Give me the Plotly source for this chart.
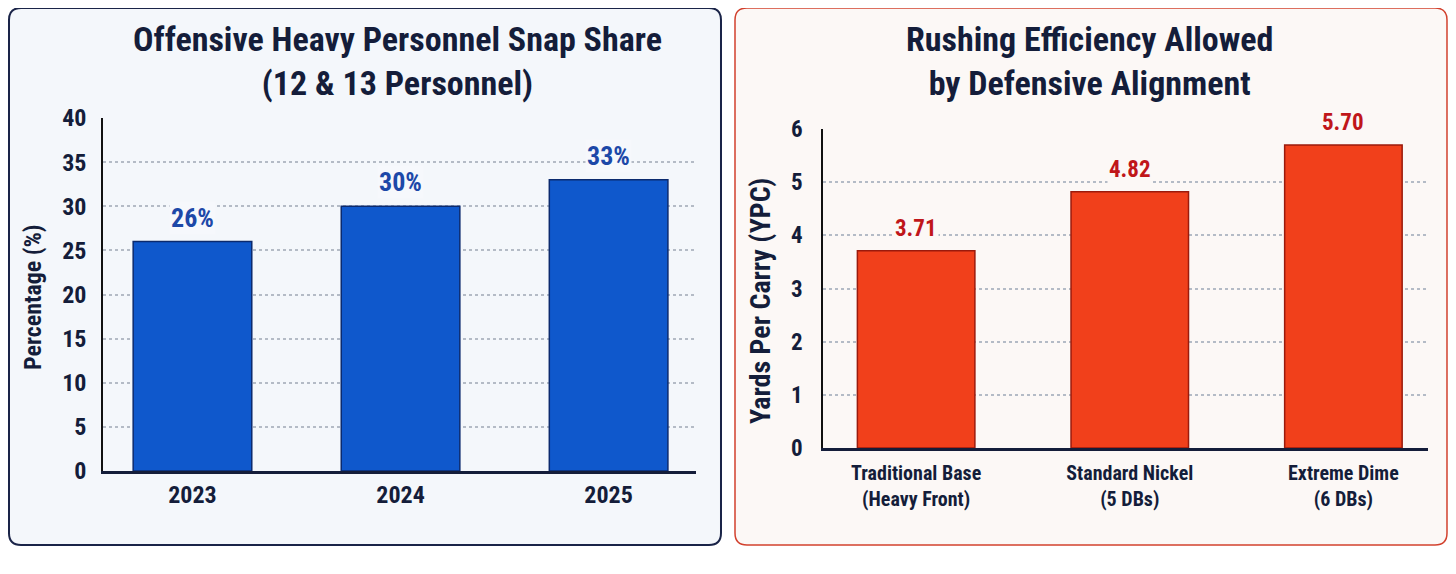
import plotly.graph_objects as go

# left panel data
years = ["2023", "2024", "2025"]
heavy_share = [26, 30, 33]
heavy_labels = ["26%", "30%", "33%"]
share_ticks = [0, 5, 10, 15, 20, 25, 30, 35, 40]

# right panel data
alignments = ["Traditional Base", "Standard Nickel", "Extreme Dime"]
alignment_ticktext = ["Traditional Base<br>(Heavy Front)", "Standard Nickel<br>(5 DBs)", "Extreme Dime<br>(6 DBs)"]
ypc_allowed = [3.71, 4.82, 5.70]
ypc_labels = ["3.71", "4.82", "5.70"]
ypc_ticks = [0, 1, 2, 3, 4, 5, 6]

# page body has an 8px margin, so the figure is a bit smaller than the window
OFF = 8
W, H = 1456 - OFF, 574 - OFF
FONT = "Roboto Condensed, Liberation Sans Narrow, Arial Narrow, Roboto, sans-serif"
NAVY = "#141d3a"

def px(x):
    return (x - OFF) / W

def py(y):
    return 1 - (y - OFF) / H

def rounded_box(x0, y0, x1, y1, r):
    # pixel box -> paper path with rounded corners
    pts = [
        ("M", px(x0 + r), py(y0)),
        ("L", px(x1 - r), py(y0)),
        ("Q", px(x1), py(y0), px(x1), py(y0 + r)),
        ("L", px(x1), py(y1 - r)),
        ("Q", px(x1), py(y1), px(x1 - r), py(y1)),
        ("L", px(x0 + r), py(y1)),
        ("Q", px(x0), py(y1), px(x0), py(y1 - r)),
        ("L", px(x0), py(y0 + r)),
        ("Q", px(x0), py(y0), px(x0 + r), py(y0)),
    ]
    s = ""
    for p in pts:
        s += p[0] + " " + " ".join("%.5f" % v for v in p[1:]) + " "
    return s + "Z"

def text_note(x, y, text, size, angle=0):
    return dict(x=px(x), y=py(y), xref="paper", yref="paper", showarrow=False,
                text=text, textangle=angle, xanchor="center", yanchor="middle",
                font=dict(family=FONT, size=size, color=NAVY, weight=700))

fig = go.Figure()

fig.add_trace(go.Bar(
    x=years, y=heavy_share, width=0.57,
    marker=dict(color="#0f58cc", line=dict(color="#0b2a6e", width=1.5)),
    xaxis="x", yaxis="y", hoverinfo="skip", showlegend=False,
))
fig.add_trace(go.Bar(
    x=alignments, y=ypc_allowed, width=0.55,
    marker=dict(color="#f1401b", line=dict(color="#9b1a0c", width=1.5)),
    xaxis="x2", yaxis="y2", hoverinfo="skip", showlegend=False,
))

annotations = []
for i, (v, lab) in enumerate(zip(heavy_share, heavy_labels)):
    annotations.append(dict(x=i, y=v, xref="x", yref="y", text=lab, showarrow=False,
                            yanchor="bottom", yshift=7, bgcolor="#f6f8fc", borderpad=1,
                            font=dict(family=FONT, size=26, color="#1d48a8", weight=700)))
for i, (v, lab) in enumerate(zip(ypc_allowed, ypc_labels)):
    annotations.append(dict(x=i, y=v, xref="x2", yref="y2", text=lab, showarrow=False,
                            yanchor="bottom", yshift=7, bgcolor="#fcf8f6", borderpad=1,
                            font=dict(family=FONT, size=23, color="#c0161a", weight=700)))

# panel titles and y axis titles
annotations += [
    text_note(397, 61, "Offensive Heavy Personnel Snap Share<br>(12 & 13 Personnel)", 34),
    text_note(1089, 61, "Rushing Efficiency Allowed<br>by Defensive Alignment", 34),
    text_note(33, 297, "Percentage (%)", 24, -90),
    text_note(760, 301, "Yards Per Carry (YPC)", 28, -90),
]

shapes = [
    dict(type="path", path=rounded_box(9, 8, 721, 545, 12), xref="paper", yref="paper",
         fillcolor="#f4f7fb", line=dict(color="#1a2448", width=2), layer="below"),
    dict(type="path", path=rounded_box(735, 8, 1447, 545, 12), xref="paper", yref="paper",
         fillcolor="#fcf8f6", line=dict(color="#d2412e", width=1.5), layer="below"),
]

tickfont = dict(family=FONT, size=24, color=NAVY, weight=700)

fig.update_layout(
    width=W, height=H,
    margin=dict(l=0, r=0, t=0, b=0, autoexpand=False),
    paper_bgcolor="white",
    plot_bgcolor="rgba(0,0,0,0)",
    shapes=shapes,
    annotations=annotations,
    xaxis=dict(domain=[px(103), px(696)], range=[-0.43, 2.42], type="category",
               showline=True, linecolor=NAVY, linewidth=3, ticks="", showgrid=False,
               tickfont=tickfont, ticklabelstandoff=0, automargin=False, fixedrange=True),
    yaxis=dict(domain=[py(471), py(118)], range=[0, 40], tickvals=share_ticks,
               showline=True, linecolor="#111111", linewidth=1.5, ticks="",
               showgrid=True, gridcolor="#b4bbc6", griddash="dot", gridwidth=1.5,
               zeroline=False, tickfont=tickfont, ticklabelstandoff=10, automargin=False),
    xaxis2=dict(domain=[px(823), px(1428)], range=[-0.436, 2.396], type="category",
                tickvals=alignments, ticktext=alignment_ticktext,
                showline=True, linecolor=NAVY, linewidth=3, ticks="", showgrid=False,
                tickfont=dict(family=FONT, size=20, color=NAVY, weight=700),
                ticklabelstandoff=5, anchor="y2", automargin=False),
    yaxis2=dict(domain=[py(448), py(129)], range=[0, 6], tickvals=ypc_ticks,
                showline=True, linecolor="#111111", linewidth=1.5, ticks="",
                showgrid=True, gridcolor="#b4bbc6", griddash="dot", gridwidth=1.5,
                zeroline=False, tickfont=dict(family=FONT, size=23, color=NAVY, weight=700),
                ticklabelstandoff=14, anchor="x2", automargin=False),
    bargap=0.4,
)

fig.write_html("out.html")
